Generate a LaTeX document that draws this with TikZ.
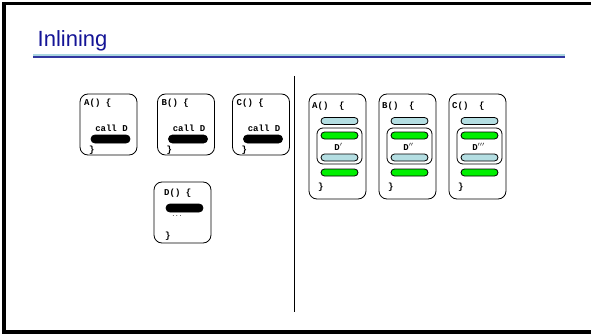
\documentclass[tikz,border=0pt]{standalone}
\usepackage{fontspec}
\setmainfont{Liberation Sans}
\setmonofont{Liberation Mono}
\definecolor{titleblue}{RGB}{20,20,150}
\definecolor{rulelight}{RGB}{170,214,224}
\definecolor{ruledark}{RGB}{50,55,160}
\definecolor{barblue}{RGB}{180,222,226}
\definecolor{bargreen}{RGB}{0,240,0}

\begin{document}
\begin{tikzpicture}
  [x=1pt,y=-1pt,every node/.style={inner sep=0pt},
   func/.style={draw,rounded corners=8pt,minimum width=57pt,line width=0.8pt},
   inl/.style={draw,rounded corners=6pt,minimum width=45pt,minimum height=36pt,line width=0.8pt},
   code/.style={font=\ttfamily\bfseries\fontsize{9}{9}\selectfont,anchor=west},
   bar/.style={draw,rounded corners=3.5pt,minimum width=37pt,minimum height=7pt,line width=0.8pt},
   callbar/.style={bar,fill=black,minimum width=39pt,minimum height=8pt,rounded corners=4pt}]
  \useasboundingbox (0,0) rectangle (591,334);

  % slide frame and title
  \fill (2,2) rectangle (6,334);
  \fill (2,2) rectangle (591,5);
  \fill (2,330) rectangle (591,334);
  \node[anchor=base west,text=titleblue,font=\fontsize{22}{24}\selectfont] (title) at (37.5,47) {Inlining};
  \fill[rulelight] (33,54) rectangle (565,56.5);
  \fill[ruledark] (33,56.5) rectangle (565,58.5);
  \coordinate (sep top) at (294.5,76);
  \coordinate (sep bot) at (294.5,312);
  \draw[line width=1.5pt] (sep top) -- (sep bot);

  % before inlining
  \foreach \name/\x in {A/108.5,B/186,C/261}{
    \node[func,minimum height=61pt] (\name) at (\x,124.5) {};
    \node[code] (\name-head) at (\x-24.5,103) {\name() \{};
    \node[code,anchor=center] (\name-call) at (\x+3,128) {call D};
    \node[callbar] (\name-bar) at (\x+2,139) {};
    \node[code] (\name-end) at (\x-19.5,150) {\}};
  }
  \node[func,minimum height=61pt] (D) at (182.5,212.5) {};
  \node[code] (D-head) at (164,193) {D() \{};
  \node[callbar,minimum width=37pt] (D-bar) at (184.5,208) {};
  \node[code,anchor=center,font=\ttfamily\fontsize{6}{6}\selectfont] (D-dots) at (177,216) {...};
  \node[code] (D-end) at (165,236) {\}};

  % after inlining
  \foreach \name/\x/\d in {A/337.5/$'$,B/407.5/$''$,C/477.5/$'''$}{
    \node[func,minimum height=105pt] (\name2) at (\x,146.5) {};
    \node[code] (\name2-head) at (\x-25.5,106) {\name()~~\{};
    \node[bar,fill=barblue] (\name2-pre) at (\x+2,121) {};
    \node[inl] (\name2-inl) at (\x+2,146) {};
    \node[bar,fill=bargreen] (\name2-d1) at (\x+2,135.5) {};
    \node[code,anchor=center] (\name2-lbl) at (\x+1,147) {D\d};
    \node[bar,fill=barblue] (\name2-d2) at (\x+2,157.5) {};
    \node[bar,fill=bargreen] (\name2-post) at (\x+2,172.5) {};
    \node[code] (\name2-end) at (\x-19.5,187.5) {\}};
  }
\end{tikzpicture}
\end{document}
